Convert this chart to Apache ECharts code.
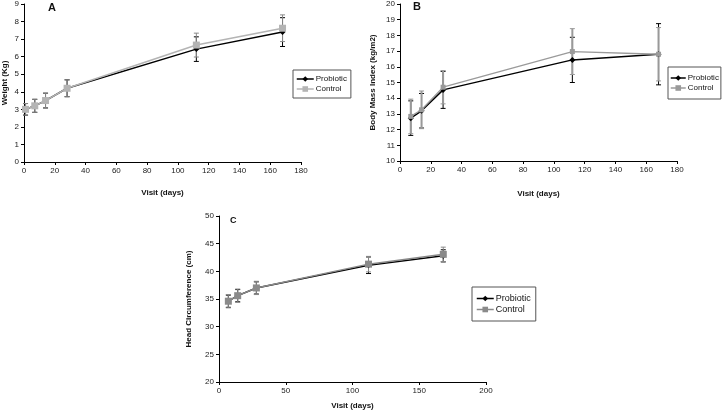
<!DOCTYPE html>
<html><head><meta charset="utf-8">
<script src="https://cdn.jsdelivr.net/npm/echarts@6/dist/echarts.min.js"></script>
<style>html,body{margin:0;padding:0;background:#fff}#c{width:724px;height:417px}</style>
</head><body><div id="c"></div>
<script>
// Panel A: weight
const weightDays = [1, 7, 14, 28, 112, 168];
const weightProbiotic = [3.0, 3.2, 3.5, 4.2, 6.43, 7.40];
const weightControl = [3.0, 3.2, 3.5, 4.2, 6.66, 7.62];
const weightProbioticSD = [0.33, 0.37, 0.42, 0.48, 0.70, 0.82];
const weightControlSD = [0.33, 0.37, 0.42, 0.48, 0.68, 0.76];
// Panel B: BMI
const bmiDays = [7, 14, 28, 112, 168];
const bmiProbiotic = [12.73, 13.2, 14.53, 16.44, 16.8];
const bmiControl = [12.84, 13.26, 14.7, 16.97, 16.8];
const bmiProbioticSD = [1.1, 1.1, 1.18, 1.44, 1.95];
const bmiControlSD = [1.1, 1.2, 1.06, 1.46, 1.7];
// Panel C: head circumference
const headDays = [7, 14, 28, 112, 168];
const headProbiotic = [34.6, 35.6, 37.0, 41.1, 42.8];
const headControl = [34.6, 35.6, 37.0, 41.3, 43.07];
const headProbioticSD = [1.1, 1.1, 1.1, 1.5, 1.1];
const headControlSD = [1.2, 1.2, 1.2, 1.4, 1.3];

const seriesNames = ['Probiotic', 'Control'];
const panelLetters = ['A', 'B', 'C'];
const xTitle = 'Visit (days)';
const yTitles = ['Weight (Kg)', 'Body Mass Index (kg/m2)', 'Head Circumference (cm)'];

const FONT = 'Liberation Sans, Arial, sans-serif';
const pair = (xs, ys) => xs.map((x, i) => [x, ys[i]]);
const errData = (xs, ys, sd) => xs.map((x, i) => [x, ys[i] - sd[i], ys[i] + sd[i]]);

function errSeries(idx, data, color, lw, z) {
  return {
    type: 'custom', xAxisIndex: idx, yAxisIndex: idx, z: z,
    encode: { x: 0, y: [1, 2] }, data: data, silent: true,
    renderItem: function (params, api) {
      const x = api.value(0), lo = api.value(1), hi = api.value(2);
      const t = api.coord([x, hi]), b = api.coord([x, lo]);
      const w = 2.5;
      const st = { stroke: color, lineWidth: lw };
      const cap = { stroke: color, lineWidth: 1 };
      return { type: 'group', children: [
        { type: 'line', shape: { x1: t[0], y1: t[1], x2: b[0], y2: b[1] }, style: st },
        { type: 'line', shape: { x1: t[0] - w, y1: t[1], x2: t[0] + w, y2: t[1] }, style: cap },
        { type: 'line', shape: { x1: b[0] - w, y1: b[1], x2: b[0] + w, y2: b[1] }, style: cap }
      ]};
    }
  };
}
function lineSeries(idx, name, data, color, symbol, size, lw, z) {
  return {
    type: 'line', name: name, xAxisIndex: idx, yAxisIndex: idx, data: data, z: z,
    symbol: symbol, symbolSize: size, showSymbol: true, animation: false,
    lineStyle: { color: color, width: lw }, itemStyle: { color: color }
  };
}
function xAx(idx, max, interval, gap) {
  return {
    type: 'value', gridIndex: idx, min: 0, max: max, interval: interval,
    name: xTitle, nameLocation: 'middle', nameGap: gap,
    nameTextStyle: { fontFamily: FONT, fontWeight: 'bold', fontSize: 8, color: '#111' },
    axisLine: { show: true, lineStyle: { color: '#000', width: 1 } },
    axisTick: { show: true, length: 3, lineStyle: { color: '#000' } },
    axisLabel: { fontFamily: FONT, fontSize: 8, color: '#222', margin: 5 },
    splitLine: { show: false }
  };
}
function yAx(idx, min, max, interval, gap) {
  return {
    type: 'value', gridIndex: idx, min: min, max: max, interval: interval,
    name: yTitles[idx], nameLocation: 'middle', nameGap: gap, nameRotate: 90,
    nameTextStyle: { fontFamily: FONT, fontWeight: 'bold', fontSize: 8, color: '#111' },
    axisLine: { show: true, lineStyle: { color: '#000', width: 1 } },
    axisTick: { show: true, length: 3, lineStyle: { color: '#000' } },
    axisLabel: { fontFamily: FONT, fontSize: 8, color: '#222', margin: 5 },
    splitLine: { show: false }
  };
}
function legend(left, top, ctrlColor, fs, pad, iw) {
  return {
    left: left, top: top, orient: 'vertical',
    borderColor: '#555', borderWidth: 1, padding: pad,
    itemWidth: iw, itemHeight: 7, itemGap: 2,
    textStyle: { fontFamily: FONT, fontSize: fs, color: '#111', padding: [0, 0, 0, -3] },
    data: [
      { name: seriesNames[0], itemStyle: { color: '#000' }, lineStyle: { color: '#000', width: 1.5 } },
      { name: seriesNames[1], itemStyle: { color: ctrlColor }, lineStyle: { color: ctrlColor, width: 1.5 } }
    ],
    selectedMode: false
  };
}

const ctrlA = '#b4b4b4', ctrlB = '#9a9a9a', ctrlC = '#8a8a8a';

const option = {
  animation: false,
  backgroundColor: '#fff',
  title: [
    { text: panelLetters[0], left: 48, top: 2, textStyle: { fontFamily: FONT, fontWeight: 'bold', fontSize: 11, color: '#111' }, padding: 0 },
    { text: panelLetters[1], left: 413, top: 1, textStyle: { fontFamily: FONT, fontWeight: 'bold', fontSize: 11, color: '#111' }, padding: 0 },
    { text: panelLetters[2], left: 230, top: 216, textStyle: { fontFamily: FONT, fontWeight: 'bold', fontSize: 9, color: '#111' }, padding: 0 }
  ],
  grid: [
    { left: 23, top: 3, width: 278, height: 159 },
    { left: 400, top: 4, width: 277, height: 157 },
    { left: 219, top: 216, width: 267, height: 166 }
  ],
  xAxis: [xAx(0, 180, 20, 27), xAx(1, 180, 20, 29), xAx(2, 200, 50, 20)],
  yAxis: [yAx(0, 0, 9, 1, 15), yAx(1, 10, 20, 1, 23), yAx(2, 20, 50, 5, 26)],
  legend: [
    legend(293, 70, ctrlA, 8, [5, 4, 5, 3], 17),
    legend(668, 67, ctrlB, 8, [7, 2, 7, 2], 15),
    legend(472, 287, ctrlC, 9, [7, 5, 7, 4], 17)
  ],
  series: [
    errSeries(0, errData(weightDays, weightProbiotic, weightProbioticSD), '#000', 1, 2),
    errSeries(0, errData(weightDays, weightControl, weightControlSD), '#888', 1, 2),
    lineSeries(0, seriesNames[0], pair(weightDays, weightProbiotic), '#000', 'diamond', 6, 1.5, 3),
    lineSeries(0, seriesNames[1], pair(weightDays, weightControl), ctrlA, 'rect', 7, 1.5, 4),

    errSeries(1, errData(bmiDays, bmiProbiotic, bmiProbioticSD), '#000', 1, 2),
    errSeries(1, errData(bmiDays, bmiControl, bmiControlSD), '#999', 2, 2),
    lineSeries(1, seriesNames[0], pair(bmiDays, bmiProbiotic), '#000', 'diamond', 6, 1.5, 3),
    lineSeries(1, seriesNames[1], pair(bmiDays, bmiControl), ctrlB, 'rect', 5, 1.3, 4),

    errSeries(2, errData(headDays, headProbiotic, headProbioticSD), '#000', 1, 2),
    errSeries(2, errData(headDays, headControl, headControlSD), '#888', 1, 2),
    lineSeries(2, seriesNames[0], pair(headDays, headProbiotic), '#000', 'diamond', 6, 1.5, 3),
    lineSeries(2, seriesNames[1], pair(headDays, headControl), ctrlC, 'rect', 7, 1.5, 4)
  ]
};
const chart = echarts.init(document.getElementById('c'), null, { renderer: 'canvas' });
chart.setOption(option);
</script></body></html>
